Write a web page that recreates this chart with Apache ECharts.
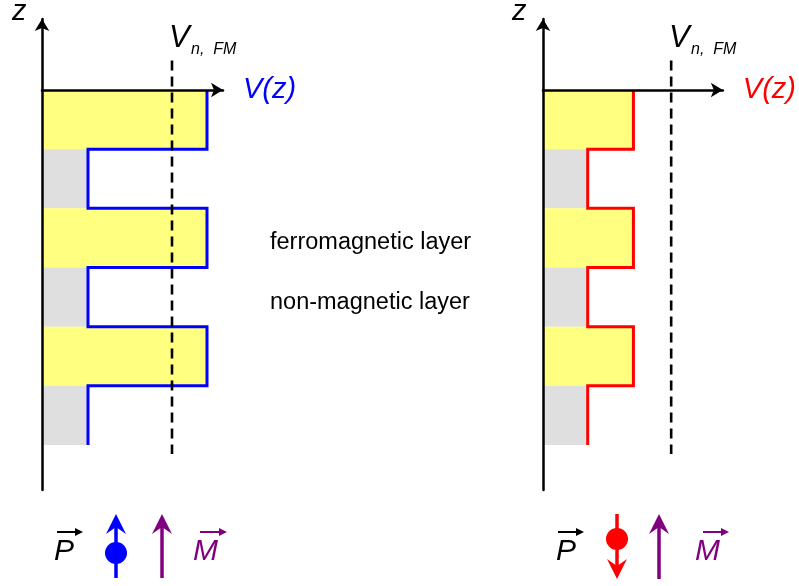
<!DOCTYPE html>
<html><head><meta charset="utf-8">
<script src="https://cdn.jsdelivr.net/npm/echarts@6/dist/echarts.min.js"></script>
<style>html,body{margin:0;padding:0;background:#fff}#c{width:799px;height:586px}</style>
</head><body><div id="c"></div>
<script>
// ---- data ----
const layerTops    = [0, -1, -2, -3, -4, -5];
const layerBottoms = [-1, -2, -3, -4, -5, -6];
const layerKinds   = ['FM', 'NM', 'FM', 'NM', 'FM', 'NM'];
const potentialParallel     = { FM: 16.5, NM: 4.6 };  // left panel (P parallel M)
const potentialAntiparallel = { FM: 9.1,  NM: 4.5 };  // right panel (P antiparallel M)
const vnFM = [13.0, 12.9];
const vnFMExtent = [0.5, -6.15];
const panelColors = ['#0000ff', '#ff0000'];
const axisNames = ['V(z)', 'V(z)'];

// ---- build ----
const FONT = '"Liberation Sans", Arial, sans-serif';
const YELLOW = '#ffff80', GRAY = '#dfdfdf';

function stepPoints(pot) {
  const pts = [];
  layerKinds.forEach((k, i) => {
    pts.push([pot[k], layerTops[i]]);
    pts.push([pot[k], layerBottoms[i]]);
  });
  return pts;
}
function fillData(pot) {
  return layerKinds.map((k, i) => [pot[k], layerTops[i], layerBottoms[i], k === 'FM' ? 0 : 1]);
}

const pots = [potentialParallel, potentialAntiparallel];
const grids = [
  { left: 42, top: 19, width: 181, height: 471 },
  { left: 543, top: 19, width: 181, height: 471 }
];
const xAxes = [], yAxes = [], series = [];
[0, 1].forEach(g => {
  xAxes.push({
    gridIndex: g, type: 'value', min: 0, max: 18.1, z: 6,
    axisLine: { onZero: true, lineStyle: { color: '#000', width: 2.5 }, symbol: ['none', 'arrow'], symbolSize: [11, 12] },
    axisTick: { show: false }, axisLabel: { show: false }, splitLine: { show: false },
    name: axisNames[g], nameLocation: 'end', nameGap: 20,
    nameTextStyle: { color: panelColors[g], fontSize: 29, fontStyle: 'italic', fontFamily: FONT }
  });
  yAxes.push({
    gridIndex: g, type: 'value', min: -6.76, max: 1.2, z: 6,
    axisLine: { onZero: false, lineStyle: { color: '#000', width: 2.5 }, symbol: ['none', 'arrow'], symbolSize: [11, 12] },
    axisTick: { show: false }, axisLabel: { show: false }, splitLine: { show: false }
  });
  series.push({
    type: 'custom', xAxisIndex: g, yAxisIndex: g, z: 1,
    data: fillData(pots[g]),
    encode: { x: 0, y: [1, 2] },
    renderItem(params, api) {
      const p0 = api.coord([0, api.value(1)]);
      const p1 = api.coord([api.value(0), api.value(2)]);
      return { type: 'rect', shape: { x: p0[0], y: p0[1], width: p1[0] - p0[0], height: p1[1] - p0[1] },
        style: { fill: api.value(3) === 0 ? YELLOW : GRAY } };
    },
    silent: true
  });
  series.push({
    type: 'line', xAxisIndex: g, yAxisIndex: g, z: 3,
    data: stepPoints(pots[g]), showSymbol: false, symbol: 'none',
    lineStyle: { color: panelColors[g], width: 3, join: 'miter' }, silent: true
  });
  series.push({
    type: 'line', xAxisIndex: g, yAxisIndex: g, z: 4,
    data: [[vnFM[g], vnFMExtent[0]], [vnFM[g], vnFMExtent[1]]], symbol: 'none',
    lineStyle: { color: '#000', width: 2.6, type: [10, 6] }, silent: true
  });
});

function txt(x, y, text, size, color, italic) {
  return { type: 'text', x, y, style: { text, fontSize: size, fontFamily: FONT, fontStyle: italic ? 'italic' : 'normal', fill: color, verticalAlign: 'middle', align: 'left' } };
}
function hArrow(x1, x2, y, color) {
  return [
    { type: 'line', shape: { x1, y1: y, x2: x2 - 4, y2: y }, style: { stroke: color, lineWidth: 2 } },
    { type: 'polygon', shape: { points: [[x2 - 8, y - 4], [x2, y], [x2 - 8, y + 4]] }, style: { fill: color } }
  ];
}
function vArrow(x, yTail, yTip, color) {
  const d = yTip < yTail ? 1 : -1;
  return [
    { type: 'line', shape: { x1: x, y1: yTail, x2: x, y2: yTip + d * 8 }, style: { stroke: color, lineWidth: 3.5 } },
    { type: 'polygon', shape: { points: [[x, yTip], [x + 10, yTip + d * 20], [x, yTip + d * 13], [x - 10, yTip + d * 20]] }, style: { fill: color } }
  ];
}
const PURPLE = '#800080';
const graphic = [
  txt(12, 12, 'z', 29, '#000', true),
  txt(512, 12, 'z', 29, '#000', true),
  txt(169, 38, 'V', 31, '#000', true),
  txt(191, 50, 'n,  FM', 16, '#000', true),
  txt(669, 38, 'V', 31, '#000', true),
  txt(691, 50, 'n,  FM', 16, '#000', true),
  { type: 'text', x: 270, y: 231, style: { text: 'ferromagnetic layer', fontSize: 23.5, fontFamily: FONT, fill: '#000' } },
  { type: 'text', x: 270, y: 291, style: { text: 'non-magnetic layer', fontSize: 23.5, fontFamily: FONT, fill: '#000' } },
  // left legend
  txt(54, 552, 'P', 30, '#000', true),
  ...hArrow(57, 83, 532, '#000'),
  ...vArrow(116, 578, 514, '#0000ff'),
  { type: 'circle', shape: { cx: 116, cy: 553, r: 11 }, style: { fill: '#0000ff' } },
  ...vArrow(162, 578, 514, PURPLE),
  txt(193, 552, 'M', 30, PURPLE, true),
  ...hArrow(200, 227, 532, PURPLE),
  // right legend
  txt(556, 552, 'P', 30, '#000', true),
  ...hArrow(558, 584, 532, '#000'),
  ...vArrow(617, 514, 579, '#ff0000'),
  { type: 'circle', shape: { cx: 617, cy: 539, r: 11 }, style: { fill: '#ff0000' } },
  ...vArrow(659, 579, 514, PURPLE),
  txt(695, 552, 'M', 30, PURPLE, true),
  ...hArrow(703, 729, 532, PURPLE)
];

const chart = echarts.init(document.getElementById('c'), null, { renderer: 'canvas' });
chart.setOption({
  animation: false,
  backgroundColor: '#fff',
  grid: grids, xAxis: xAxes, yAxis: yAxes, series, graphic
});
</script>
</body></html>
